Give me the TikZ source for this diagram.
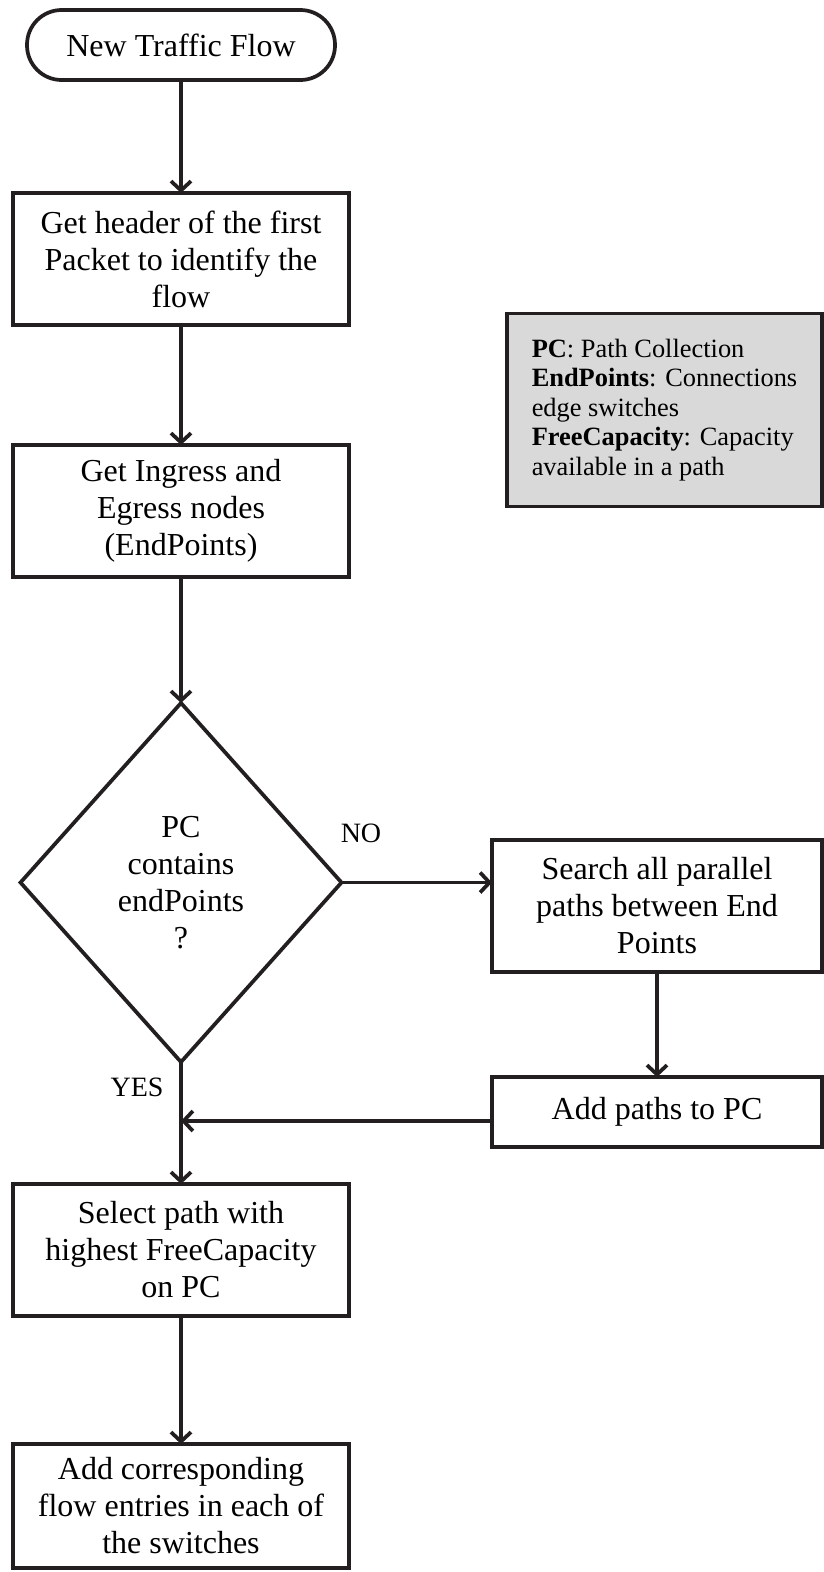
\documentclass[tikz,border=0pt]{standalone}
\usepackage{fontspec}
\setmainfont{Liberation Serif}
\usetikzlibrary{shapes.geometric,positioning,arrows.meta}
\definecolor{ink}{HTML}{231F20}
\definecolor{notebg}{HTML}{D9D9D9}
\newcommand{\bodyfont}{\fontsize{24}{27.75}\selectfont}
\newcommand{\notefont}{\fontsize{19.8}{22.2}\selectfont}

\begin{document}
\begin{tikzpicture}[
  x=0.75pt, y=-0.75pt,
  font=\bodyfont,
  every node/.style={outer sep=0pt},
  term/.style={draw=ink, line width=2.8pt, rounded corners=26pt, minimum width=231pt,
               minimum height=52.5pt, inner sep=0pt},
  box/.style={draw=ink, line width=2.8pt, align=center, minimum width=252pt,
              minimum height=99pt, inner sep=0pt},
  sidebox/.style={box, minimum width=247.5pt},
  decide/.style={draw=ink, line width=2.8pt, diamond, align=center, minimum width=240.75pt,
                 minimum height=269.25pt, inner sep=0pt},
  note/.style={draw=ink, line width=2.8pt, fill=notebg, font=\notefont, align=left,
               minimum width=236.25pt, minimum height=144.75pt},
  lbl/.style={font=\fontsize{21}{24}\selectfont},
  ar/.style={-{Straight Barb[length=7pt,width=15pt]}, draw=ink, line width=2.8pt}
]
\useasboundingbox (0,0) rectangle (824,1572);
\node[term] (start) at (181,45) {New Traffic Flow};
\node[box, below=84.75pt of start] (hdr) {Get header of the first\\Packet to identify the\\flow};
\node[box, below=90pt of hdr] (ends) {Get Ingress and\\Egress nodes\\(EndPoints)};
\node[decide, below=94.5pt of ends] (pcq) {PC\\contains\\endPoints\\?};
\node[box, below=91.5pt of pcq] (sel) {Select path with\\highest FreeCapacity\\on PC};
\node[box, below=96pt of sel, minimum height=93pt] (inst) {Add corresponding\\flow entries in each of\\the switches};
\node[sidebox] (srch) at (657,906) {Search all parallel\\paths between End\\Points};
\node[sidebox, minimum height=52.5pt] (addpc) at (657,1112) {Add paths to PC};
\node[note] (legend) at (664.5,410) {\textbf{PC}: Path Collection\\\textbf{EndPoints}: Connections\\edge switches\\\textbf{FreeCapacity}: Capacity\\available in a path};
\node[lbl] (no) at (361,833) {NO};
\node[lbl] (yes) at (137,1087) {YES};
\draw[ar] (start) -- (hdr);
\draw[ar] (hdr) -- (ends);
\draw[ar] (ends) -- (pcq);
\draw[ar] (pcq.east) -- (pcq.east -| srch.west);
\draw[ar] (srch) -- (addpc);
\draw[ar] (pcq) -- (sel);
\draw[ar] ([yshift=-6.75pt]addpc.west) -- ([yshift=-6.75pt]addpc.west -| pcq.south);
\draw[ar] (sel) -- (inst);
\end{tikzpicture}
\end{document}
